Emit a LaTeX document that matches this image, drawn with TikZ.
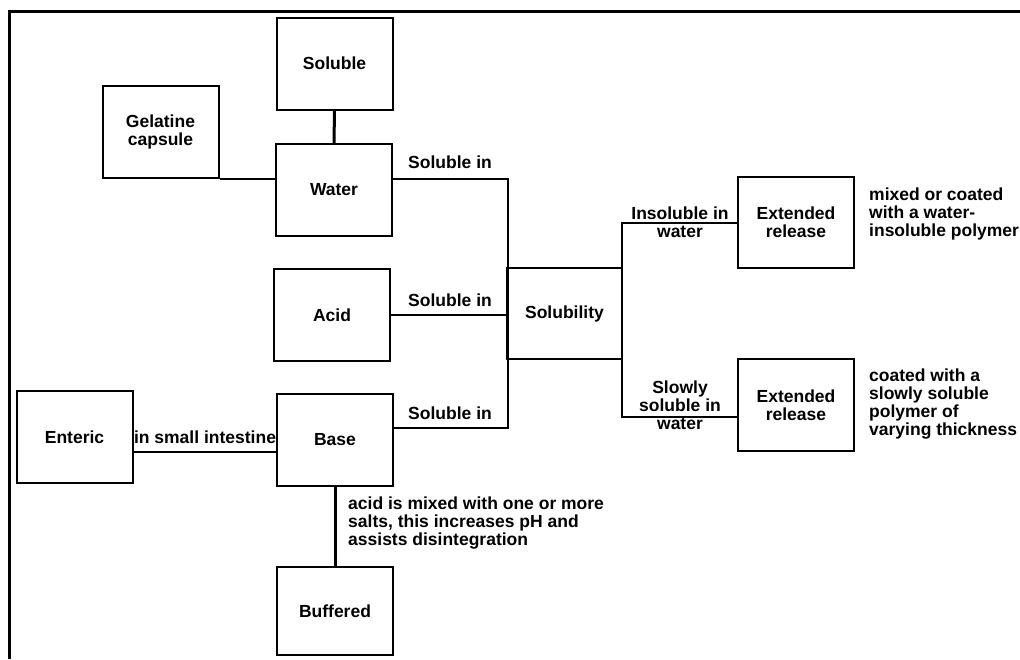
\documentclass[tikz,border=0pt]{standalone}
\usepackage{fontspec}
\setmainfont{Liberation Sans}
\begin{document}
\begin{tikzpicture}[x=1pt,y=-1pt,
  every node/.style={font=\fontsize{17.5}{18}\selectfont\bfseries},
  box/.style={draw, line width=2pt, minimum width=116pt, minimum height=92pt,
              inner sep=0pt, align=center},
  link/.style={line width=2pt},
  heavy/.style={line width=3pt},
  lbl/.style={align=center, inner sep=0pt},
  note/.style={align=left, inner sep=0pt, anchor=west}]
\useasboundingbox (0,0) rectangle (1020,659);

% outer frame
\draw[line width=3pt] (9,659) -- (9,11) -- (1020,11);

% boxes
\node[box] (soluble)    at (334.5,63.5) {Soluble};
\node[box] (gelatine)   at (160.5,132)  {Gelatine\\capsule};
\node[box] (water)      at (334,190)    {Water};
\node[box] (acid)       at (332,315)    {Acid};
\node[box] (base)       at (335,440)    {Base};
\node[box, minimum height=88pt] (buffered) at (335,611) {Buffered};
\node[box] (enteric)    at (74.5,437)   {Enteric};
\node[box, minimum width=115pt, minimum height=91pt] (solubility) at (564.5,313.5) {Solubility};
\node[box, minimum height=91pt] (ext1) at (796,222.5) {Extended\\release};
\node[box] (ext2)       at (796,405)    {Extended\\release};

% left bus into Solubility
\coordinate (wtop) at (508,179);
\coordinate (bbot) at (508,428);
\draw[link] (water.east |- wtop) -- (wtop) -- (bbot) -- (base.east |- bbot);
\draw[link] (acid.east) -- (acid.east -| solubility.west);

% right bus out of Solubility
\coordinate (rtop) at (622,223);
\coordinate (rbot) at (622,417);
\draw[link] (ext1.west |- rtop) -- (rtop) -- (rbot) -- (ext2.west |- rbot);

% other links
\coordinate (ent) at (0,452);
\draw[link] (enteric.east |- ent) -- (base.west |- ent);
\draw[link] (gelatine.south east) -- (gelatine.south east -| water.west);
\draw[heavy] (soluble.south) -- (water.north);
\draw[heavy] (base.south) -- (buffered.north);

% connector labels
\node[lbl] (l1) at (450,162) {Soluble in};
\node[lbl] (l2) at (450,300) {Soluble in};
\node[lbl] (l3) at (450,413) {Soluble in};
\node[lbl] (l4) at (680,222) {Insoluble in\\water};
\node[lbl] (l5) at (680,405) {Slowly\\soluble in\\water};
\node[lbl] (l6) at (205,437) {in small intestine};

% notes
\node[note] (n1) at (869,214) {mixed or coated\\with a water-\\insoluble polymer};
\node[note] (n2) at (869,404) {coated with a\\slowly soluble\\polymer of\\varying thickness};
\node[note] (n3) at (348,523) {acid is mixed with one or more\\salts, this increases pH and\\assists disintegration};
\end{tikzpicture}
\end{document}
